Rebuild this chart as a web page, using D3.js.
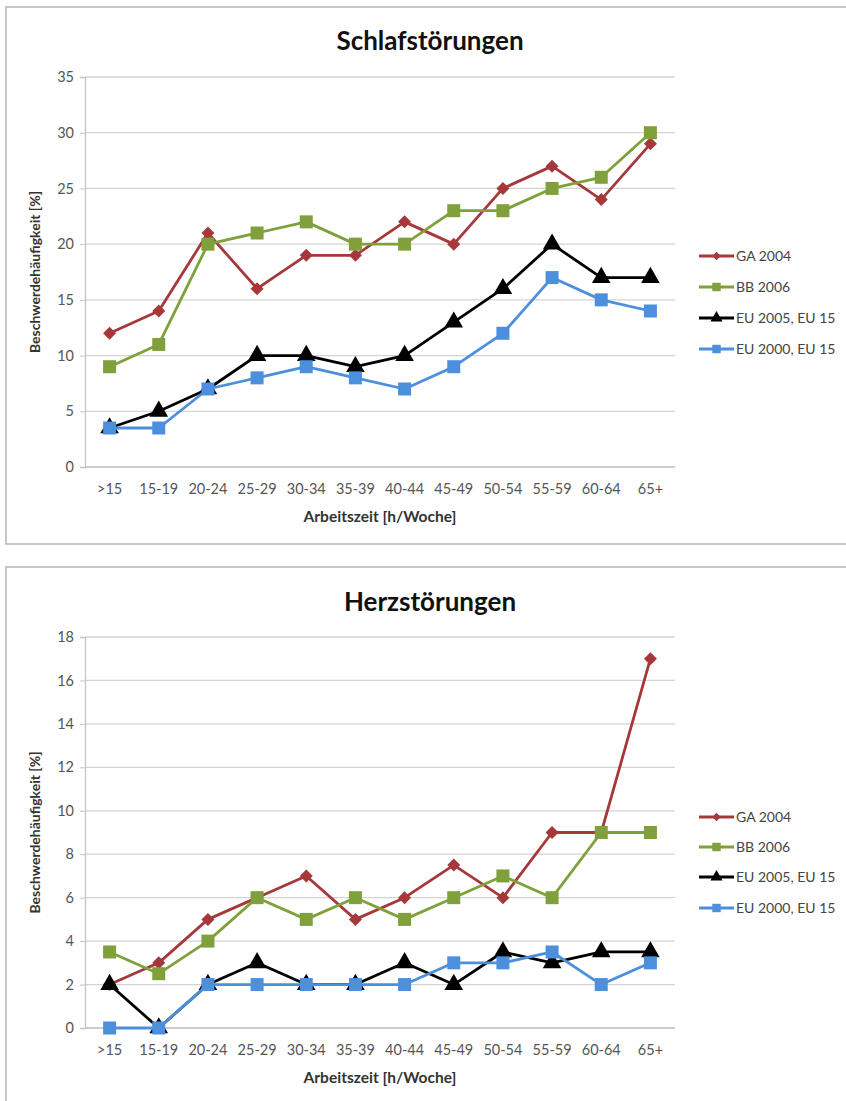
<!DOCTYPE html>
<html>
<head>
<meta charset="utf-8">
<script src="https://cdn.jsdelivr.net/npm/d3@7"></script>
<style>
  html, body { margin: 0; padding: 0; background: #fff; }
  svg { display: block; }
  text { font-family: Lato, "Open Sans", "DejaVu Sans", sans-serif; }
</style>
</head>
<body>
<svg id="chart" width="846" height="1101"></svg>
<script>
// ---- data ----
const categories = [">15", "15-19", "20-24", "25-29", "30-34", "35-39", "40-44", "45-49", "50-54", "55-59", "60-64", "65+"];
const seriesNames = ["GA 2004", "BB 2006", "EU 2005, EU 15", "EU 2000, EU 15"];

// Schlafstörungen
const sleepGA2004 = [12, 14, 21, 16, 19, 19, 22, 20, 25, 27, 24, 29];
const sleepBB2006 = [9, 11, 20, 21, 22, 20, 20, 23, 23, 25, 26, 30];
const sleepEU2005 = [3.5, 5, 7, 10, 10, 9, 10, 13, 16, 20, 17, 17];
const sleepEU2000 = [3.5, 3.5, 7, 8, 9, 8, 7, 9, 12, 17, 15, 14];
const sleepTicks = [0, 5, 10, 15, 20, 25, 30, 35];

// Herzstörungen
const heartGA2004 = [2, 3, 5, 6, 7, 5, 6, 7.5, 6, 9, 9, 17];
const heartBB2006 = [3.5, 2.5, 4, 6, 5, 6, 5, 6, 7, 6, 9, 9];
const heartEU2005 = [2, 0, 2, 3, 2, 2, 3, 2, 3.5, 3, 3.5, 3.5];
const heartEU2000 = [0, 0, 2, 2, 2, 2, 2, 3, 3, 3.5, 2, 3];
const heartTicks = [0, 2, 4, 6, 8, 10, 12, 14, 16, 18];

const colors = ["#A6383B", "#7FA03B", "#000000", "#4C8FDD"];
const markers = ["diamond", "square", "triangle", "square"];

const svg = d3.select("#chart");

function markerPath(type, scale) {
  if (type === "diamond") {
    const r = 6.5 * scale;
    return `M0,${-r}L${r},0L0,${r}L${-r},0Z`;
  }
  if (type === "triangle") {
    return d3.symbol().type(d3.symbolTriangle).size(150 * scale * scale)();
  }
  return d3.symbol().type(d3.symbolSquare).size(169 * scale * scale)();
}

function drawChart(cfg) {
  const g = svg.append("g");
  // frame
  g.append("rect")
    .attr("x", cfg.frame[0]).attr("y", cfg.frame[1])
    .attr("width", cfg.frame[2]).attr("height", cfg.frame[3])
    .attr("fill", "#fff").attr("stroke", "#b5b5b5").attr("stroke-width", 1.5);

  const x = d3.scaleBand().domain(categories).range([cfg.left, cfg.right]);
  const y = d3.scaleLinear().domain([0, cfg.max]).range([cfg.bottom, cfg.top]);

  // gridlines
  g.append("g").selectAll("line").data(cfg.ticks).join("line")
    .attr("x1", cfg.left).attr("x2", cfg.right)
    .attr("y1", d => y(d)).attr("y2", d => y(d))
    .attr("stroke", d => d === 0 ? "#bdbdbd" : "#d4d4d4").attr("stroke-width", 1.3);

  // y axis
  const yAxis = g.append("g").attr("transform", `translate(${cfg.left},0)`)
    .call(d3.axisLeft(y).tickValues(cfg.ticks).tickSize(5).tickPadding(6).tickFormat(d3.format("d")));
  yAxis.select(".domain").attr("stroke", "#c4c4c4").attr("stroke-width", 1.3);
  yAxis.selectAll(".tick line").attr("stroke", "#c4c4c4");
  yAxis.selectAll("text").attr("fill", "#555").attr("font-size", 14.5);

  // x axis labels
  const xAxis = g.append("g").attr("transform", `translate(0,${cfg.bottom})`)
    .call(d3.axisBottom(x).tickSize(0).tickPadding(17));
  xAxis.select(".domain").remove();
  xAxis.selectAll("text").attr("fill", "#555").attr("font-size", 14.5);

  // title
  g.append("text").attr("x", cfg.titleX).attr("y", cfg.titleY)
    .attr("text-anchor", "middle").attr("font-size", 26).attr("font-weight", "bold")
    .attr("fill", "#111").text(cfg.title);

  // axis titles
  g.append("text").attr("x", (cfg.left + cfg.right) / 2).attr("y", cfg.bottom + 55)
    .attr("text-anchor", "middle").attr("font-size", 15.5).attr("font-weight", "bold")
    .attr("fill", "#333").text("Arbeitszeit [h/Woche]");
  g.append("text")
    .attr("transform", `translate(40,${(cfg.top + cfg.bottom) / 2}) rotate(-90)`)
    .attr("text-anchor", "middle").attr("font-size", 14).attr("font-weight", "bold")
    .attr("fill", "#333").text("Beschwerdehäufigkeit [%]");

  const cx = d => x(d) + x.bandwidth() / 2;
  const line = d3.line().x(d => cx(d.c)).y(d => y(d.v));

  cfg.series.forEach((vals, i) => {
    const pts = categories.map((c, j) => ({ c, v: vals[j] }));
    g.append("path").datum(pts).attr("d", line)
      .attr("fill", "none").attr("stroke", colors[i]).attr("stroke-width", 2.8)
      .attr("stroke-linejoin", "round");
    g.append("g").selectAll("path").data(pts).join("path")
      .attr("transform", d => `translate(${cx(d.c)},${y(d.v)})`)
      .attr("d", markerPath(markers[i], 1))
      .attr("fill", colors[i]);
  });

  // legend
  const lg = g.append("g");
  seriesNames.forEach((name, i) => {
    const ly = cfg.legendY[i];
    lg.append("line").attr("x1", 699).attr("x2", 734).attr("y1", ly).attr("y2", ly)
      .attr("stroke", colors[i]).attr("stroke-width", 2.8);
    lg.append("path").attr("transform", `translate(716.5,${ly})`)
      .attr("d", markerPath(markers[i], 0.65)).attr("fill", colors[i]);
    lg.append("text").attr("x", 736).attr("y", ly).attr("dy", "0.35em")
      .attr("font-size", 14).attr("fill", "#444").text(name);
  });
}

drawChart({
  frame: [6, 7, 850, 537],
  title: "Schlafstörungen", titleX: 430, titleY: 50,
  left: 85, right: 675, top: 77, bottom: 467, max: 35, ticks: sleepTicks,
  series: [sleepGA2004, sleepBB2006, sleepEU2005, sleepEU2000],
  legendY: [256, 287, 318, 349]
});

drawChart({
  frame: [6, 567, 850, 545],
  title: "Herzstörungen", titleX: 430, titleY: 611,
  left: 85, right: 675, top: 637, bottom: 1028, max: 18, ticks: heartTicks,
  series: [heartGA2004, heartBB2006, heartEU2005, heartEU2000],
  legendY: [817, 847, 877, 908]
});
</script>
</body>
</html>
